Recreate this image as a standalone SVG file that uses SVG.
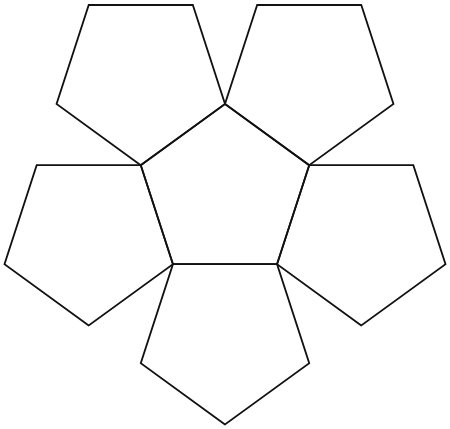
<svg xmlns="http://www.w3.org/2000/svg" xmlns:xlink="http://www.w3.org/1999/xlink" width="450" height="429" viewBox="0 0 450 429">
  <style>
    .pent { fill: none; stroke: #111; stroke-width: 1.8; stroke-linejoin: miter; }
  </style>
  <defs>
    <polygon id="up" class="pent" points="0,-88.56 84.23,-27.37 52.05,71.65 -52.05,71.65 -84.23,-27.37"/>
    <polygon id="down" class="pent" points="0,88.56 -84.23,27.37 -52.05,-71.65 52.05,-71.65 84.23,27.37"/>
  </defs>
  <rect width="450" height="429" fill="#fff"/>
  <g id="center"><use xlink:href="#up" href="#up" transform="translate(225,192.56)"/></g>
  <g id="top-left"><use xlink:href="#down" href="#down" transform="translate(140.78,76.64)"/></g>
  <g id="top-right"><use xlink:href="#down" href="#down" transform="translate(309.22,76.64)"/></g>
  <g id="left"><use xlink:href="#down" href="#down" transform="translate(88.72,236.84)"/></g>
  <g id="right"><use xlink:href="#down" href="#down" transform="translate(361.28,236.84)"/></g>
  <g id="bottom"><use xlink:href="#down" href="#down" transform="translate(225,335.85)"/></g>
</svg>
